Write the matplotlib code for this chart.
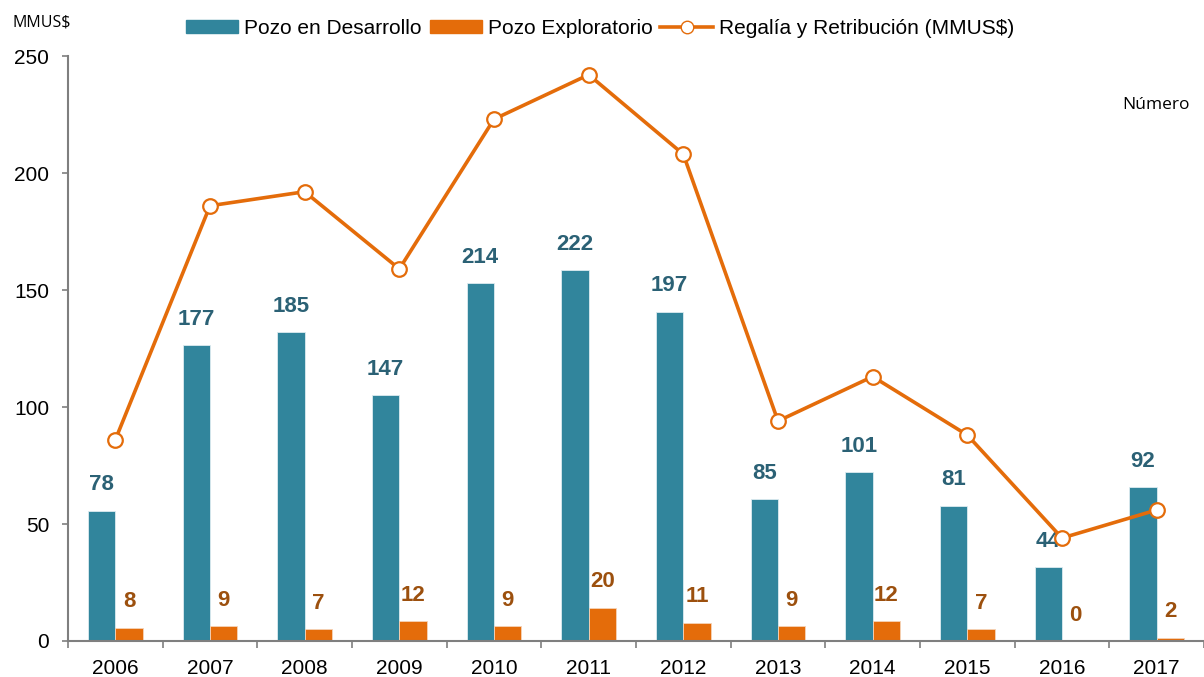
import numpy as np
import matplotlib
matplotlib.use("Agg")
import matplotlib.pyplot as plt
from matplotlib.patches import Patch
from matplotlib.lines import Line2D

plt.rcParams['font.family'] = ['Liberation Sans', 'DejaVu Sans']

# datos
years = ["2006", "2007", "2008", "2009", "2010", "2011", "2012", "2013", "2014", "2015", "2016", "2017"]
pozo_desarrollo = [78, 177, 185, 147, 214, 222, 197, 85, 101, 81, 44, 92]
pozo_exploratorio = [8, 9, 7, 12, 9, 20, 11, 9, 12, 7, 0, 2]
regalia = [86, 186, 192, 159, 223, 242, 208, 94, 113, 88, 44, 56]

C_BLUE = "#31859C"
C_ORANGE = "#E46C0A"
C_BLUE_TXT = "#2B6175"
C_ORANGE_TXT = "#9C500E"
C_AXIS = "#7F7F7F"

fig = plt.figure(figsize=(12.04, 6.77), dpi=100)
ax = fig.add_axes([68 / 1204, 1 - 641 / 677, 1 - 68 / 1204, (641 - 56) / 677])
ax2 = ax.twinx()

x = np.arange(len(years))
w = 0.29

# barras en el eje secundario (Número)
ax2.bar(x - w / 2, pozo_desarrollo, width=w, color=C_BLUE, edgecolor="#DDEBF0", linewidth=0.6)
ax2.bar(x + w / 2, pozo_exploratorio, width=w, color=C_ORANGE, edgecolor="#F5D3B8", linewidth=0.6)
ax2.set_ylim(0, 350)
ax2.set_yticks([])
for s in ax2.spines.values():
    s.set_visible(False)

for i in range(len(years)):
    ax2.annotate(str(pozo_desarrollo[i]), (x[i] - w / 2, pozo_desarrollo[i]), xytext=(0, 11),
                 textcoords="offset points", ha="center", va="bottom", fontsize=16,
                 fontweight="bold", color=C_BLUE_TXT)
    ax2.annotate(str(pozo_exploratorio[i]), (x[i] + w / 2, pozo_exploratorio[i]), xytext=(0, 11),
                 textcoords="offset points", ha="center", va="bottom", fontsize=16,
                 fontweight="bold", color=C_ORANGE_TXT)

# línea en el eje principal (MMUS$)
ax.set_zorder(ax2.get_zorder() + 1)
ax.patch.set_visible(False)
ax.plot(x, regalia, color=C_ORANGE, linewidth=2.6, marker="o", markersize=10.5,
        markerfacecolor="white", markeredgecolor=C_ORANGE, markeredgewidth=1.6, clip_on=False)
ax.set_ylim(0, 250)
ax.set_yticks([0, 50, 100, 150, 200, 250])
ax.set_xlim(-0.5, 11.33)
ax.set_xticks(np.arange(-0.5, 12, 1))
ax.set_xticklabels([])
ax.set_xticks(x, minor=True)
ax.set_xticklabels(years, minor=True)
ax.tick_params(axis="x", which="major", length=5, color=C_AXIS, width=1.2)
ax.tick_params(axis="x", which="minor", length=0, labelsize=15, pad=13)
ax.tick_params(axis="y", length=4.5, color=C_AXIS, width=1.2, labelsize=15, pad=9)
ax.spines["top"].set_visible(False)
ax.spines["right"].set_visible(False)
ax.spines["left"].set_color(C_AXIS)
ax.spines["bottom"].set_color(C_AXIS)
ax.spines["left"].set_linewidth(1.5)
ax.spines["bottom"].set_linewidth(1.5)

fig.text(12 / 1204, 1 - 22 / 677, "MMUS$", fontsize=11.5, family=["Open Sans", "DejaVu Sans"], va="center")
fig.text(1190 / 1204, 1 - 105 / 677, "Número", fontsize=12.5, family=["Open Sans", "DejaVu Sans"],
         va="center", ha="right")

handles = [
    Patch(color=C_BLUE),
    Patch(color=C_ORANGE),
    Line2D([0], [0], color=C_ORANGE, linewidth=2.6, marker="o", markersize=9,
           markerfacecolor="white", markeredgecolor=C_ORANGE),
]
labels = ["Pozo en Desarrollo", "Pozo Exploratorio", "Regalía y Retribución (MMUS$)"]
fig.legend(handles, labels, loc="center", bbox_to_anchor=(600 / 1204, 1 - 28 / 677), ncol=3,
           frameon=False, fontsize=15, handlelength=2.5, handleheight=0.58, columnspacing=0.38,
           handletextpad=0.29)

fig.savefig("out.png", dpi=100)
